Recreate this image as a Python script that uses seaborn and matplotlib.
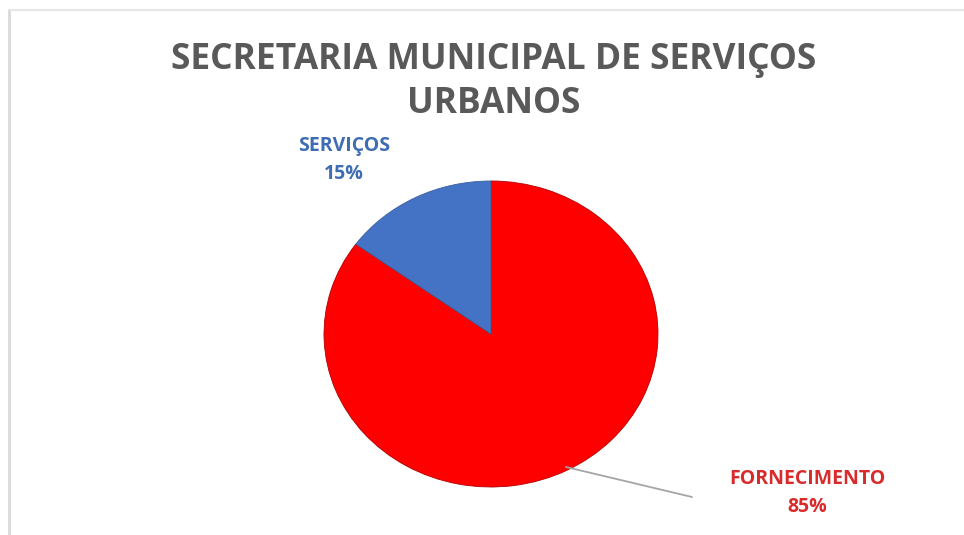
import matplotlib
matplotlib.use("Agg")
import matplotlib.pyplot as plt
import seaborn as sns
from matplotlib.lines import Line2D

categories = ["FORNECIMENTO", "SERVIÇOS"]
values = [85, 15]
colors = ["#FF0000", "#4472C4"]
label_colors = ["#D92B2B", "#3F6DB3"]
title = "SECRETARIA MUNICIPAL DE SERVIÇOS\nURBANOS"

sns.set_theme(style="white")
plt.rcParams['font.family'] = ['Open Sans', 'DejaVu Sans']

W, H = 964, 535
fig = plt.figure(figsize=(W / 100, H / 100), dpi=100)
fig.patch.set_facecolor("white")

def fx(px):
    return px / W

def fy(py):
    return 1 - py / H

# light frame around chart area
fig.add_artist(Line2D([fx(9), fx(9)], [fy(10), fy(535)], color="#D9D9D9", lw=2, transform=fig.transFigure))
fig.add_artist(Line2D([fx(9), fx(964)], [fy(10), fy(10)], color="#E6E6E6", lw=1.5, transform=fig.transFigure))

ax = fig.add_axes([fx(324), fy(487), fx(658) - fx(324), (487 - 181) / H])
wedges, _ = ax.pie(values, colors=colors, startangle=90, counterclock=False,
                   wedgeprops=dict(linewidth=0.6, edgecolor="#B00000"))
wedges[1].set_edgecolor("#3A5F9E")
ax.set_aspect("auto")
ax.set_xlim(-1, 1)
ax.set_ylim(-1, 1)
ax.axis("off")

fig.text(fx(494), fy(82), title, ha="center", va="center", fontsize=25.5,
         fontweight="bold", color="#595959", linespacing=1.3)

total = sum(values)
# data labels
fig.text(fx(344), fy(160), f"{categories[1]}\n{round(values[1] / total * 100)}%",
         ha="center", va="center", fontsize=14, fontweight="bold",
         color=label_colors[1], linespacing=1.55)
fig.text(fx(807), fy(493), f"{categories[0]}\n{round(values[0] / total * 100)}%",
         ha="center", va="center", fontsize=14, fontweight="bold",
         color=label_colors[0], linespacing=1.5)

# leader line
fig.add_artist(Line2D([fx(566), fx(692)], [fy(467), fy(497)], color="#A6A6A6",
                      lw=1.3, transform=fig.transFigure))

fig.savefig("out.png", dpi=100, facecolor="white")
